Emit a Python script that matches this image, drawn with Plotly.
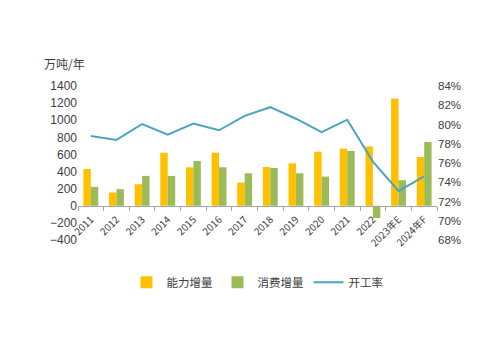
import plotly.graph_objects as go

categories = ["2011", "2012", "2013", "2014", "2015", "2016", "2017", "2018",
              "2019", "2020", "2021", "2022", "2023年E", "2024年F"]
capacity_increase = [430, 155, 252, 620, 450, 620, 271, 453, 496, 632, 667, 694, 1253, 570]
consumption_increase = [221, 194, 349, 349, 523, 450, 380, 442, 380, 341, 640, -143, 299, 745]
utilization_rate = [78.8, 78.4, 80.05, 78.95, 80.1, 79.4, 80.9, 81.8, 80.6, 79.2, 80.5, 76.15, 73.1, 74.6]

left_range = [-400, 1400]
right_range = [68, 84]

font_lat = "Liberation Sans, Noto Sans CJK SC, sans-serif"
font_cjk = "Noto Sans CJK SC, Liberation Sans, sans-serif"
txt = "#404040"

fig = go.Figure()
fig.add_trace(go.Bar(x=categories, y=capacity_increase, name="能力增量",
                     marker=dict(color="#FFC000", line=dict(width=0))))
fig.add_trace(go.Bar(x=categories, y=consumption_increase, name="消费增量",
                     marker=dict(color="#9BBB59", line=dict(width=0))))
fig.add_trace(go.Scatter(x=categories, y=utilization_rate, name="开工率", yaxis="y2",
                         mode="lines", line=dict(color="#4AA6BA", width=2)))

zero_pos = (0 - left_range[0]) / (left_range[1] - left_range[0])

fig.update_layout(
    width=500, height=353,
    margin=dict(l=78, r=63, t=86, b=113),
    paper_bgcolor="white", plot_bgcolor="white",
    barmode="group", bargap=0.42, bargroupgap=0,
    font=dict(family=font_lat, size=12, color=txt),
    xaxis=dict(type="category", anchor="free", position=zero_pos,
               showline=True, linecolor="#A6A6A6", linewidth=1,
               ticks="outside", tickson="boundaries", ticklen=4, tickcolor="#A6A6A6",
               tickangle=-45, ticklabelstandoff=3,
               tickfont=dict(family=font_cjk, size=10, color=txt),
               showgrid=False, zeroline=False),
    yaxis=dict(range=left_range, dtick=200, showgrid=False, zeroline=False,
               showline=False, ticks="", tickfont=dict(size=12, color=txt)),
    yaxis2=dict(range=right_range, dtick=2, ticksuffix="%", overlaying="y", side="right",
                showgrid=False, zeroline=False, showline=False, ticks="",
                tickfont=dict(size=11.5, color=txt)),
    legend=dict(orientation="h", x=0.5, xanchor="center", y=-0.18, yanchor="top",
                font=dict(family=font_cjk, size=11.5, color=txt),
                itemwidth=30, traceorder="normal"),
    annotations=[dict(text="万吨/年", xref="paper", yref="paper", x=-0.1, y=1.08,
                      xanchor="left", yanchor="bottom", showarrow=False,
                      font=dict(family=font_cjk, size=12, color=txt))],
)

fig.write_html("out.html")
